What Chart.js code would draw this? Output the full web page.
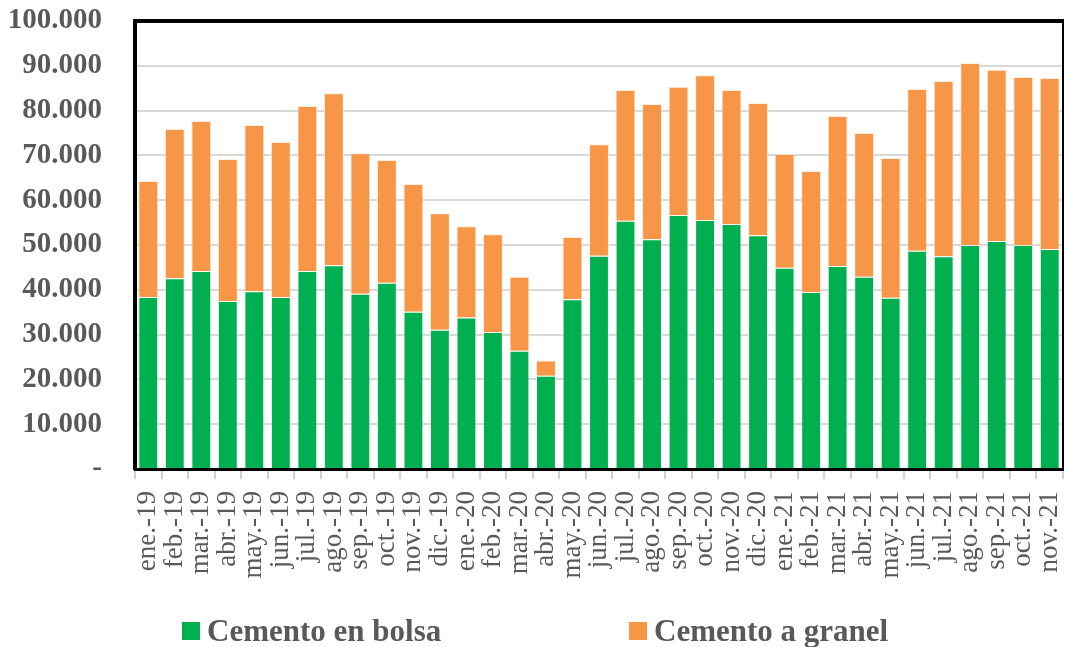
<!DOCTYPE html>
<html>
<head>
<meta charset="utf-8">
<script src="https://cdn.jsdelivr.net/npm/chart.js@4/dist/chart.umd.min.js"></script>
<style>
  html, body { margin: 0; padding: 0; background: #fff; }
  #wrap { position: relative; width: 1065px; height: 647px; }
  .ley { position: absolute; top: 614px; height: 34px; display: flex; align-items: center;
         font-family: "Liberation Serif", "Times New Roman", serif; font-weight: bold;
         font-size: 31px; color: #595959; white-space: nowrap; }
  .ley span.cuadro { display: inline-block; width: 18px; height: 18px; margin-right: 7px; }
</style>
</head>
<body>
<div id="wrap">
  <canvas id="grafico" width="1065" height="647"></canvas>
  <div class="ley" style="left:182px"><span class="cuadro" style="background:#00B050"></span>Cemento en bolsa</div>
  <div class="ley" style="left:629px"><span class="cuadro" style="background:#F79646"></span>Cemento a granel</div>
</div>
<script>
// meses ene.-19 a nov.-21
const meses = [
  'ene.-19','feb.-19','mar.-19','abr.-19','may.-19','jun.-19','jul.-19','ago.-19','sep.-19','oct.-19','nov.-19','dic.-19',
  'ene.-20','feb.-20','mar.-20','abr.-20','may.-20','jun.-20','jul.-20','ago.-20','sep.-20','oct.-20','nov.-20','dic.-20',
  'ene.-21','feb.-21','mar.-21','abr.-21','may.-21','jun.-21','jul.-21','ago.-21','sep.-21','oct.-21','nov.-21'
];

// toneladas en bolsa
const enBolsa = [
  38400, 42600, 44200, 37500, 39700, 38400, 44200, 45500, 39100, 41600, 35100, 31100,
  33800, 30600, 26400, 20800, 37900, 47600, 55400, 51300, 56700, 55600, 54700, 52200,
  44900, 39500, 45300, 42900, 38200, 48700, 47500, 50000, 50900, 50000, 49100
];

const totalMes = [
  64300, 75900, 77700, 69200, 76800, 73000, 81000, 83900, 70500, 69000, 63600, 57100,
  54200, 52400, 42900, 24200, 51800, 72500, 84600, 81500, 85300, 87900, 84600, 81700,
  70300, 66500, 78800, 75000, 69400, 84800, 86600, 90600, 89100, 87500, 87300
];

const aGranel = totalMes.map((t, i) => t - enBolsa[i]);

const ticksY = [0, 10000, 20000, 30000, 40000, 50000, 60000, 70000, 80000, 90000, 100000];

const fuente = '"Liberation Serif", "Times New Roman", serif';
const gris = '#595959';

// marco negro arriba y a la derecha
const marco = {
  id: 'marco',
  afterDraw(chart) {
    const { ctx, chartArea: a } = chart;
    ctx.save();
    ctx.strokeStyle = '#000';
    ctx.lineWidth = 4;
    ctx.beginPath();
    ctx.moveTo(a.left - 2, a.top);
    ctx.lineTo(a.right + 1, a.top);
    ctx.stroke();
    ctx.lineWidth = 2;
    ctx.beginPath();
    ctx.moveTo(a.right, a.top);
    ctx.lineTo(a.right, a.bottom);
    ctx.stroke();
    ctx.restore();
  }
};

new Chart(document.getElementById('grafico'), {
  type: 'bar',
  data: {
    labels: meses,
    datasets: [
      {
        label: 'Cemento en bolsa',
        data: enBolsa,
        backgroundColor: '#00B050',
        borderColor: 'rgba(255,255,255,0.35)',
        borderWidth: 1,
        categoryPercentage: 1,
        barPercentage: 0.75
      },
      {
        label: 'Cemento a granel',
        data: aGranel,
        backgroundColor: '#F79646',
        borderColor: 'rgba(255,230,210,0.7)',
        borderWidth: 1,
        categoryPercentage: 1,
        barPercentage: 0.75
      }
    ]
  },
  options: {
    responsive: false,
    animation: false,
    layout: { padding: { top: 21, right: 2, left: 0, bottom: 0 } },
    plugins: {
      legend: { display: false },
      tooltip: { enabled: false }
    },
    scales: {
      x: {
        stacked: true,
        afterFit: (s) => { s.height = 178; s.paddingLeft = 0; s.paddingRight = 0; },
        border: { color: '#000', width: 3 },
        grid: { drawOnChartArea: false, drawTicks: true, tickLength: 10, color: '#d0d0d0', lineWidth: 2 },
        ticks: {
          color: gris,
          font: { family: fuente, size: 27 },
          minRotation: 90, maxRotation: 90,
          autoSkip: false,
          padding: 12
        }
      },
      y: {
        stacked: true,
        min: 0, max: 100000,
        afterFit: (s) => { s.width = 135; s.paddingTop = 0; s.paddingBottom = 0; },
        afterBuildTicks: (s) => { s.ticks = ticksY.map(v => ({ value: v })); },
        border: { color: '#000', width: 4 },
        grid: { color: '#d9d9d9', lineWidth: 2, drawTicks: false },
        ticks: {
          color: gris,
          padding: 33,
          font: { family: fuente, size: 29, weight: 'bold' },
          callback: (v) => v === 0 ? '-' : v.toLocaleString('de-DE')
        }
      }
    }
  },
  plugins: [marco]
});
</script>
</body>
</html>
